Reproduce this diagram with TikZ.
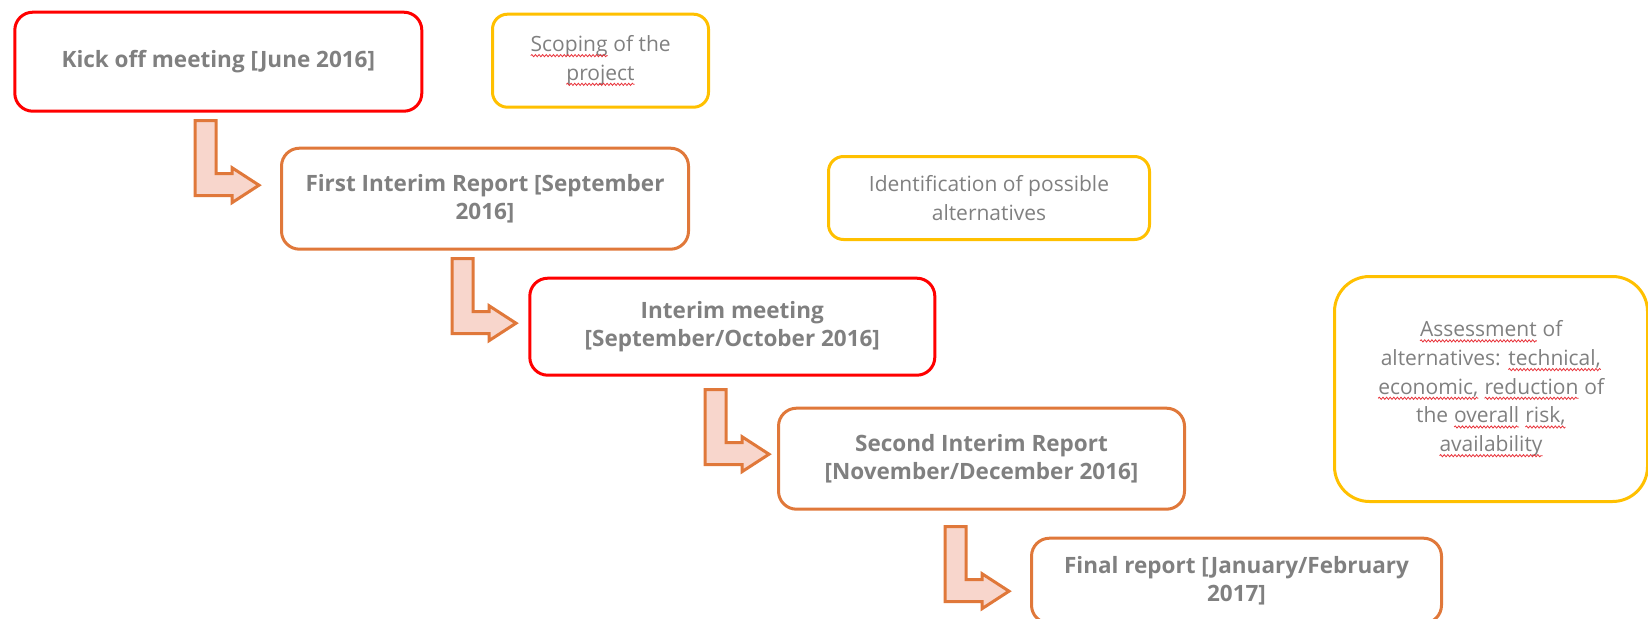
\documentclass[tikz,border=0pt]{standalone}
\usepackage{fontspec}
\setmainfont{Open Sans}
\usetikzlibrary{decorations.pathmorphing,calc}
\definecolor{kred}{HTML}{FF0000}
\definecolor{korange}{HTML}{E0783A}
\definecolor{kyellow}{HTML}{FFC000}
\definecolor{kfill}{HTML}{F8D6CC}
\definecolor{ktext}{HTML}{808080}
\definecolor{ksquig}{HTML}{E8333A}
\newcommand\sq[1]{\tikz[baseline=(sqw.base),x=1pt,y=1pt]{\node[inner sep=0pt,outer sep=0pt,minimum width=0pt,minimum height=0pt,draw=none,fill=none,anchor=base] (sqw) {#1};\draw[ksquig,line width=0.8pt,sharp corners,decorate,decoration={snake,amplitude=1.1pt,segment length=3.6pt}] ([yshift=-4pt]sqw.base west) -- ([yshift=-4pt]sqw.base east);}}
\begin{document}
\begin{tikzpicture}[x=1pt,y=-1pt,
  box/.style={draw, line width=3pt, rounded corners=18pt, align=center, inner sep=0pt, text=ktext, anchor=north west},
  mainbox/.style={box, font=\fontsize{22.5}{28.5}\selectfont\bfseries},
  notebox/.style={box, draw=kyellow, font=\fontsize{21}{28.7}\selectfont},
  bentarrow/.pic={\draw[korange, line width=3pt, fill=kfill, line join=miter] (0,0) -- (21,0) -- (21,53) -- (37,53) -- (37,47) -- (64,64.5) -- (37,82) -- (37,75) -- (0,75) -- cycle;}]
\useasboundingbox (0,0) rectangle (1648,618);
\node[mainbox, draw=kred, minimum width=407pt, minimum height=99pt] (kick) at (13.3,10.7) {Kick off meeting [June 2016]};
\node[notebox, minimum width=216pt, minimum height=93pt, rounded corners=15pt] (scope) at (491,12.7) {\sq{Scoping} of the\\\sq{project}};
\node[mainbox, draw=korange, minimum width=407pt, minimum height=101pt] (first) at (280,146.7) {First Interim Report [September\\2016]};
\node[notebox, minimum width=321pt, minimum height=83pt, rounded corners=15pt] (ident) at (827,155) {Identification of possible\\alternatives};
\node[mainbox, draw=kred, minimum width=405pt, minimum height=97pt] (interim) at (528.3,276.7) {Interim meeting\\{}[September/October 2016]};
\node[notebox, minimum width=313pt, minimum height=225pt, rounded corners=35pt] (assess) at (1333,275) {\sq{Assessment} of\\alternatives: \sq{technical,}\\\sq{economic,} \sq{reduction} of\\the \sq{overall} \sq{risk,}\\\sq{availability}};
\node[mainbox, draw=korange, minimum width=406pt, minimum height=101pt] (second) at (777,406.7) {Second Interim Report\\{}[November/December 2016]};
\node[mainbox, draw=korange, minimum width=410pt, minimum height=85pt] (final) at (1030,536.7) {Final report [January/February\\2017]};
\pic at ($(kick.south west)+(181.7,8)$) {bentarrow};
\pic at ($(first.south west)+(172,8)$) {bentarrow};
\pic at ($(interim.south west)+(176.7,13)$) {bentarrow};
\pic at ($(second.south west)+(168,16)$) {bentarrow};
\end{tikzpicture}
\end{document}
